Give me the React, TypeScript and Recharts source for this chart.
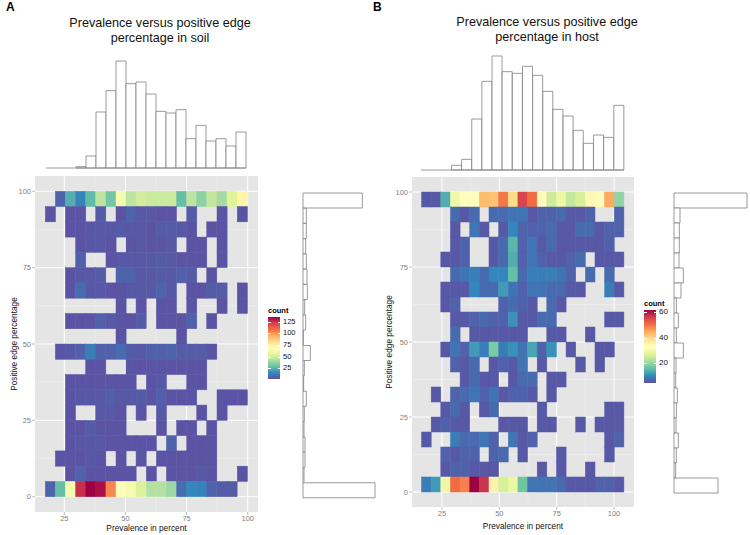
import React from 'react';
import {
  Bar,
  BarChart,
  CartesianGrid,
  ReferenceLine,
  Scatter,
  ScatterChart,
  XAxis,
  YAxis,
} from 'recharts';

const FONT = '"Liberation Sans", Arial, sans-serif';

// reversed Spectral, low to high
const spectral = ['#5E4FA2', '#3288BD', '#66C2A5', '#ABDDA4', '#E6F598', '#FFFFBF', '#FEE08B', '#FDAE61', '#F46D43', '#D53E4F', '#9E0142'];

const edgeRows = [97.5, 92.5, 87.5, 82.5, 77.5, 72.5, 67.5, 62.5, 57.5, 52.5, 47.5, 42.5, 37.5, 32.5, 27.5, 22.5, 17.5, 12.5, 7.5, 2.5];
const xTicks = [25, 50, 75, 100];
const yTicks = [0, 25, 50, 75, 100];
const xMinor = [37.5, 62.5, 87.5];
const yMinor = [12.5, 37.5, 62.5, 87.5];

const soilColumns = [19.3, 23.4, 27.5, 31.7, 35.8, 39.9, 44.1, 48.2, 52.3, 56.4, 60.6, 64.7, 68.8, 73, 77.1, 81.2, 85.3, 89.5, 93.6, 97.8];
const soilCounts = [
  [0, 6, 23, 13, 26, 45, 30, 62, 45, 50, 48, 48, 48, 27, 45, 35, 46, 40, 53, 72],
  [2, 0, 2, 2, 0, 4, 0, 2, 6, 3, 3, 2, 2, 0, 4, 0, 0, 2, 0, 2],
  [0, 0, 2, 2, 3, 3, 3, 4, 3, 3, 2, 4, 4, 3, 2, 0, 2, 2, 0, 0],
  [0, 0, 0, 2, 3, 3, 2, 0, 2, 3, 2, 2, 3, 0, 2, 2, 0, 2, 0, 0],
  [0, 0, 0, 5, 0, 0, 2, 3, 3, 3, 3, 4, 3, 2, 2, 2, 0, 2, 0, 0],
  [0, 0, 2, 3, 3, 4, 0, 6, 6, 3, 3, 4, 3, 5, 4, 0, 2, 0, 0, 0],
  [0, 0, 2, 8, 3, 3, 2, 2, 3, 3, 3, 6, 3, 0, 2, 2, 4, 4, 0, 2],
  [0, 0, 0, 0, 0, 0, 0, 2, 0, 2, 0, 2, 2, 0, 2, 0, 0, 2, 0, 2],
  [0, 0, 2, 2, 2, 5, 3, 2, 2, 4, 0, 2, 2, 2, 5, 0, 2, 0, 0, 0],
  [0, 0, 0, 0, 0, 0, 0, 2, 0, 0, 0, 0, 0, 2, 0, 0, 0, 0, 0, 0],
  [0, 2, 3, 5, 12, 5, 5, 8, 4, 3, 5, 5, 6, 4, 4, 4, 2, 0, 0, 0],
  [0, 0, 0, 0, 2, 2, 0, 0, 2, 2, 2, 2, 2, 2, 2, 2, 0, 0, 0, 0],
  [0, 0, 2, 2, 2, 2, 2, 2, 2, 0, 2, 3, 0, 0, 2, 2, 0, 0, 0, 0],
  [0, 0, 2, 3, 3, 3, 5, 3, 3, 4, 2, 5, 2, 2, 2, 0, 0, 2, 2, 2],
  [0, 0, 2, 0, 0, 3, 3, 2, 0, 2, 0, 3, 0, 0, 0, 2, 0, 2, 0, 0],
  [0, 0, 2, 2, 4, 2, 2, 2, 0, 0, 0, 2, 0, 2, 2, 0, 2, 0, 0, 0],
  [0, 0, 2, 3, 3, 3, 2, 2, 2, 2, 2, 0, 6, 0, 2, 2, 2, 0, 0, 0],
  [0, 2, 2, 2, 3, 2, 0, 2, 0, 2, 0, 2, 2, 2, 2, 2, 2, 0, 0, 0],
  [0, 0, 2, 5, 2, 2, 2, 2, 2, 0, 2, 0, 2, 2, 2, 3, 2, 0, 0, 2],
  [6, 27, 62, 124, 134, 131, 102, 68, 62, 52, 43, 43, 38, 8, 14, 13, 6, 4, 4, 0],
];
const soilTopHist = [0, 0, 0, 4, 36, 168, 232, 321, 253, 258, 222, 170, 165, 175, 88, 128, 81, 88, 66, 108];
const soilSideHist = [178, 10, 10, 8, 10, 12, 13, 5, 8, 1, 22, 4, 2, 10, 4, 3, 6, 6, 3, 216];
const soilLegendTicks = [125, 100, 75, 50, 25];

const hostColumns = [18.2, 22.4, 26.6, 30.8, 35, 39.2, 43.4, 47.6, 51.8, 56, 60.2, 64.4, 68.6, 72.8, 77, 81.2, 85.4, 89.6, 93.8, 98, 102.2];
const hostCounts = [
  [2, 2, 11, 28, 31, 31, 42, 41, 49, 38, 55, 50, 32, 23, 27, 22, 24, 33, 32, 44, 17],
  [0, 0, 0, 4, 2, 4, 0, 4, 4, 5, 5, 2, 3, 3, 4, 2, 2, 3, 0, 0, 3],
  [0, 0, 0, 2, 0, 5, 2, 0, 2, 7, 3, 3, 3, 4, 2, 2, 4, 4, 2, 3, 3],
  [0, 0, 0, 2, 3, 0, 0, 2, 4, 12, 3, 5, 2, 4, 2, 2, 2, 2, 2, 3, 0],
  [0, 0, 2, 2, 3, 0, 0, 2, 4, 11, 3, 5, 3, 2, 2, 3, 4, 0, 2, 2, 2],
  [0, 0, 0, 4, 5, 6, 4, 7, 7, 13, 4, 6, 6, 6, 5, 3, 0, 4, 0, 4, 0],
  [0, 0, 2, 2, 2, 7, 4, 4, 9, 5, 3, 5, 5, 4, 4, 2, 2, 0, 0, 6, 2],
  [0, 0, 2, 3, 0, 0, 0, 0, 3, 4, 3, 2, 0, 4, 2, 0, 0, 0, 0, 0, 0],
  [0, 0, 0, 2, 2, 3, 4, 3, 3, 8, 2, 2, 4, 4, 0, 0, 0, 0, 0, 2, 2],
  [0, 0, 0, 4, 0, 2, 2, 2, 2, 2, 2, 0, 0, 2, 2, 0, 0, 2, 0, 0, 0],
  [0, 0, 2, 5, 3, 9, 6, 15, 6, 8, 5, 10, 3, 8, 0, 2, 0, 0, 2, 2, 0],
  [0, 0, 0, 3, 2, 4, 0, 2, 3, 2, 5, 0, 2, 0, 0, 0, 2, 0, 2, 0, 0],
  [0, 0, 0, 0, 2, 4, 2, 2, 0, 2, 4, 4, 0, 2, 2, 0, 0, 0, 0, 0, 0],
  [0, 2, 0, 3, 4, 5, 3, 5, 2, 3, 3, 2, 0, 2, 0, 0, 0, 0, 0, 0, 0],
  [0, 0, 2, 4, 2, 0, 2, 4, 0, 0, 0, 0, 2, 0, 0, 0, 0, 0, 0, 2, 2],
  [0, 2, 3, 2, 2, 0, 0, 0, 2, 2, 2, 0, 2, 2, 0, 0, 2, 0, 2, 2, 2],
  [2, 0, 0, 6, 4, 4, 5, 3, 0, 5, 2, 3, 0, 0, 0, 0, 0, 0, 0, 2, 3],
  [0, 0, 3, 2, 3, 3, 0, 3, 4, 0, 2, 0, 0, 0, 2, 0, 0, 0, 0, 2, 0],
  [0, 0, 2, 3, 3, 2, 2, 2, 0, 0, 0, 0, 2, 0, 2, 0, 0, 2, 0, 0, 0],
  [6, 9, 28, 50, 48, 62, 57, 34, 24, 27, 14, 5, 5, 5, 4, 2, 2, 2, 3, 3, 2],
];
const hostTopHist = [0, 0, 0, 14, 32, 153, 266, 342, 295, 290, 311, 284, 236, 182, 162, 119, 80, 105, 98, 194];
const hostSideHist = [219, 18, 16, 16, 15, 28, 21, 7, 13, 7, 28, 6, 5, 10, 7, 6, 13, 7, 5, 132];
const hostLegendTicks = [60, 40, 20];

const topBins = ['b1', 'b2', 'b3', 'b4', 'b5', 'b6', 'b7', 'b8', 'b9', 'b10', 'b11', 'b12', 'b13', 'b14', 'b15', 'b16', 'b17', 'b18', 'b19', 'b20'];

const hexToRgb = (hex: string) => [1, 3, 5].map((i) => parseInt(hex.slice(i, i + 2), 16));

const colorFor = (count: number, max: number) => {
  const t = (Math.max(count, 1) - 1) / (max - 1);
  const pos = Math.min(t, 1) * (spectral.length - 1);
  const i = Math.min(Math.floor(pos), spectral.length - 2);
  const a = hexToRgb(spectral[i]);
  const b = hexToRgb(spectral[i + 1]);
  const rgb = a.map((v, k) => Math.round(v + (b[k] - v) * (pos - i)));
  return `rgb(${rgb.join(',')})`;
};

const buildCells = (columns: number[], counts: number[][]) => {
  const cells: { x: number; y: number; count: number }[] = [];
  counts.forEach((row, r) => {
    row.forEach((count, c) => {
      if (count > 0) cells.push({ x: columns[c], y: edgeRows[r], count });
    });
  });
  return cells;
};

interface HeatmapProps {
  left: number;
  top: number;
  plotLeft: number;
  plotWidth: number;
  plotHeight: number;
  columns: number[];
  counts: number[][];
  xDomain: [number, number];
  binWidth: number;
  maxCount: number;
  titleOffset: number;
  xLabelOffset: number;
}

const Heatmap: React.FC<HeatmapProps> = ({ left, top, plotLeft, plotWidth, plotHeight, columns, counts, xDomain, binWidth, maxCount, titleOffset, xLabelOffset }) => {
  const cells = React.useMemo(() => buildCells(columns, counts), [columns, counts]);
  const axisHeight = 23;
  const w = (plotWidth * binWidth) / (xDomain[1] - xDomain[0]);
  const h = (plotHeight * 5) / 110;
  const shape = (p: any) => (
    <rect x={p.cx - w / 2} y={p.cy - h / 2} width={w} height={h} fill={colorFor(p.payload.count, maxCount)} stroke={colorFor(p.payload.count, maxCount)} strokeWidth={0.5} />
  );
  return (
    <div style={{ position: 'absolute', left, top }}>
      <ScatterChart width={plotLeft + plotWidth} height={plotHeight + axisHeight} margin={{ top: 0, right: 0, bottom: 0, left: 0 }}>
        <CartesianGrid fill="#E5E5E5" stroke="#F2F2F2" strokeWidth={0.5} horizontalValues={yMinor} verticalValues={xMinor} />
        <CartesianGrid stroke="#FFFFFF" strokeWidth={1} horizontalValues={yTicks} verticalValues={xTicks} />
        <XAxis
          type="number"
          dataKey="x"
          domain={xDomain}
          ticks={xTicks}
          height={axisHeight}
          allowDataOverflow
          axisLine={false}
          tickSize={3}
          tickLine={{ stroke: '#7F7F7F', strokeWidth: 0.5 }}
          tick={{ fill: '#7F7F7F', fontSize: 7.5, fontFamily: FONT }}
          tickMargin={1}
          label={{ value: 'Prevalence in percent', position: 'insideBottom', offset: xLabelOffset, fill: '#111', fontSize: 8.3, fontFamily: FONT }}
        />
        <YAxis
          type="number"
          dataKey="y"
          domain={[-5, 105]}
          ticks={yTicks}
          width={plotLeft}
          allowDataOverflow
          axisLine={false}
          tickSize={3}
          tickLine={{ stroke: '#7F7F7F', strokeWidth: 0.5 }}
          tick={{ fill: '#7F7F7F', fontSize: 7.5, fontFamily: FONT }}
          tickMargin={1}
          label={{ value: 'Positive edge percentage', angle: -90, position: 'insideLeft', offset: titleOffset, fill: '#111', fontSize: 8.3, fontFamily: FONT, style: { textAnchor: 'middle' } }}
        />
        <Scatter data={cells} shape={shape} isAnimationActive={false} />
      </ScatterChart>
    </div>
  );
};

const barStroke = '#808080';

const TopHistogram: React.FC<{ left: number; top: number; width: number; height: number; values: number[] }> = ({ left, top, width, height, values }) => {
  const data = topBins.map((bin, i) => ({ bin, value: values[i] }));
  return (
    <div style={{ position: 'absolute', left: left - 2, top: top - 2 }}>
      <BarChart width={width + 4} height={height + 4} data={data} barCategoryGap={0} margin={{ top: 2, right: 2, bottom: 2, left: 2 }}>
        <XAxis dataKey="bin" hide />
        <YAxis hide domain={[0, Math.max(...values)]} />
        <Bar dataKey="value" fill="#FFFFFF" stroke={barStroke} strokeWidth={0.8} isAnimationActive={false} />
        <ReferenceLine y={0} stroke={barStroke} strokeWidth={0.8} />
      </BarChart>
    </div>
  );
};

const SideHistogram: React.FC<{ left: number; top: number; width: number; height: number; values: number[] }> = ({ left, top, width, height, values }) => {
  const data = edgeRows.map((row, i) => ({ row: String(row), value: values[i] }));
  return (
    <div style={{ position: 'absolute', left: left - 2, top: top - 2 }}>
      <BarChart layout="vertical" width={width + 4} height={height + 4} data={data} barCategoryGap={0} margin={{ top: 2, right: 2, bottom: 2, left: 2 }}>
        <XAxis type="number" hide domain={[0, Math.max(...values)]} />
        <YAxis type="category" dataKey="row" width={0} tick={false} tickLine={false} axisLine={{ stroke: barStroke, strokeWidth: 0.8 }} />
        <Bar dataKey="value" fill="#FFFFFF" stroke={barStroke} strokeWidth={0.8} isAnimationActive={false} />
      </BarChart>
    </div>
  );
};

interface ColorBarProps {
  left: number;
  top: number;
  width: number;
  height: number;
  ticks: number[];
  tickY: number[];
  fontSize: number;
}

const ColorBar: React.FC<ColorBarProps> = ({ left, top, width, height, ticks, tickY, fontSize }) => (
  <>
    <div style={{ position: 'absolute', left, top: top - 11, fontSize: 7.5, fontWeight: 700, fontFamily: FONT, lineHeight: '10px', color: '#000' }}>count</div>
    <div
      style={{
        position: 'absolute',
        left,
        top,
        width,
        height,
        background: `linear-gradient(to top, ${spectral.join(',')})`,
      }}
    />
    {ticks.map((t, i) => (
      <React.Fragment key={t}>
        <div style={{ position: 'absolute', left, top: tickY[i], width: 2.5, height: 0.6, background: '#fff' }} />
        <div style={{ position: 'absolute', left: left + width - 2.5, top: tickY[i], width: 2.5, height: 0.6, background: '#fff' }} />
        <div style={{ position: 'absolute', left: left + width + 3, top: tickY[i] - 5, fontSize, lineHeight: '10px', fontFamily: FONT, color: '#111' }}>{t}</div>
      </React.Fragment>
    ))}
  </>
);

const Title: React.FC<{ center: number; top: number; lines: string[] }> = ({ center, top, lines }) => (
  <div style={{ position: 'absolute', left: center - 120, top, width: 240, textAlign: 'center', fontSize: 12.6, lineHeight: '15px', fontFamily: FONT, color: '#111' }}>
    {lines.map((line) => (
      <div key={line}>{line}</div>
    ))}
  </div>
);

const PanelLetter: React.FC<{ left: number; text: string }> = ({ left, text }) => (
  <div style={{ position: 'absolute', left, top: 1, fontSize: 12, fontWeight: 700, lineHeight: '13px', fontFamily: FONT, color: '#000' }}>{text}</div>
);

export default function App() {
  return (
    <div style={{ position: 'absolute', left: 0, top: 0, width: 750, height: 535, overflow: 'hidden', background: '#fff' }}>
      <PanelLetter left={6} text="A" />
      <PanelLetter left={373} text="B" />

      <Title center={160} top={16} lines={['Prevalence versus positive edge', 'percentage in soil']} />
      <Title center={547} top={15} lines={['Prevalence versus positive edge', 'percentage in host']} />

      <TopHistogram left={46} top={61} width={200} height={107} values={soilTopHist} />
      <Heatmap left={5} top={176} plotLeft={30} plotWidth={223} plotHeight={336} columns={soilColumns} counts={soilCounts} xDomain={[13, 104.2]} binWidth={4.135} maxCount={134} titleOffset={9} xLabelOffset={4} />
      <SideHistogram left={303} top={193} width={72} height={305} values={soilSideHist} />
      <ColorBar left={268} top={317} width={12} height={62} ticks={soilLegendTicks} tickY={[321.5, 333, 345, 356.5, 368]} fontSize={7.5} />

      <TopHistogram left={421} top={56} width={203} height={114} values={hostTopHist} />
      <Heatmap left={382} top={177} plotLeft={30} plotWidth={222} plotHeight={330} columns={hostColumns} counts={hostCounts} xDomain={[11.94, 108.7]} binWidth={4.2} maxCount={62} titleOffset={7} xLabelOffset={1} />
      <SideHistogram left={674} top={193} width={73} height={300} values={hostSideHist} />
      <ColorBar left={644} top={310} width={12} height={73} ticks={hostLegendTicks} tickY={[312, 337.5, 363]} fontSize={8} />
    </div>
  );
}
